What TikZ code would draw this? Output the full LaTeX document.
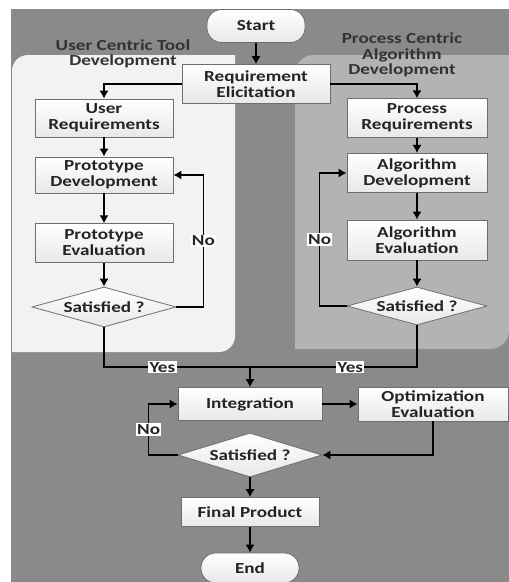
\documentclass[tikz,border=0pt]{standalone}
\usepackage{fontspec}
\setmainfont{Carlito}[FakeStretch=1.25]
\usetikzlibrary{shapes.geometric,arrows.meta}

\definecolor{outergray}{HTML}{8A8A8A}
\definecolor{userpanel}{HTML}{F2F2F2}
\definecolor{procpanel}{HTML}{B3B3B3}
\definecolor{boxline}{HTML}{6E6E6E}
\definecolor{inkgray}{HTML}{242424}

\tikzset{
  block/.style={draw=boxline, line width=0.6pt, rectangle, top color=white, bottom color=gray!18,
    text=inkgray, font=\fontsize{11.5}{12}\selectfont\bfseries, align=center, inner sep=2pt},
  terminal/.style={block, rounded corners=11pt},
  decision/.style={block, diamond, aspect=3.6, inner sep=1pt},
  flow/.style={line width=1.2pt, -{Latex[length=6pt,width=7pt]}},
  link/.style={line width=1.2pt},
  answer/.style={fill=white, inner sep=1pt, text=inkgray, font=\fontsize{11.5}{12}\selectfont\bfseries},
  paneltitle/.style={text=black!80, font=\fontsize{11.5}{11.5}\selectfont\bfseries, align=center}
}

\begin{document}
\begin{tikzpicture}[x=0.75pt, y=-0.75pt]
    \useasboundingbox (0,0) rectangle (509,582);
    % background and the two swim lanes
    \fill[outergray] (11,9) rectangle (509,582);
    \fill[userpanel] (12,352) [rounded corners=12pt] -- (12,55) [sharp corners] -- (235,55) [rounded corners=12pt] -- (235,352) [sharp corners] -- cycle;
    \fill[procpanel] (295,349) [rounded corners=14pt] -- (295,55) [sharp corners] -- (509,55) [rounded corners=14pt] -- (509,349) [sharp corners] -- cycle;
    \node[paneltitle] (usertitle) at (123,54) {User Centric Tool\\Development};
    \node[paneltitle] (proctitle) at (402,55) {Process Centric\\Algorithm\\Development};

    \node[terminal, minimum width=73.5pt, minimum height=24.75pt] (start) at (256,26) {Start};
    \node[block, minimum width=111pt, minimum height=29.25pt, below of=start, node distance=43.5pt] (reqelic) {Requirement\\Elicitation};

    % user centric side
    \node[block, minimum width=103.5pt, minimum height=28.5pt, below of=reqelic, node distance=25.5pt, xshift=-114pt] (userreq) {User\\Requirements};
    \node[block, minimum width=103.5pt, minimum height=27pt, below of=userreq, node distance=42.75pt] (protodev) {Prototype\\Development};
    \node[block, minimum width=103.5pt, minimum height=29pt, below of=protodev, node distance=51pt] (protoeval) {Prototype\\Evaluation};
    \node[decision, minimum width=108pt, minimum height=30pt, below of=protoeval, node distance=48pt] (satl) {Satisfied ?};

    % process centric side
    \node[block, minimum width=105pt, minimum height=29pt, below of=reqelic, node distance=25.5pt, xshift=120.75pt] (procreq) {Process\\Requirements};
    \node[block, minimum width=105pt, minimum height=29.5pt, below of=procreq, node distance=41.25pt] (algdev) {Algorithm\\Development};
    \node[block, minimum width=105pt, minimum height=30pt, below of=algdev, node distance=50.25pt] (algeval) {Algorithm\\Evaluation};
    \node[decision, minimum width=105pt, minimum height=28.5pt, below of=algeval, node distance=49.5pt] (satr) {Satisfied ?};

    % merged part
    \node[block, minimum width=108pt, minimum height=24.75pt, below of=reqelic, node distance=240pt, xshift=-4.5pt] (integ) {Integration};
    \node[block, minimum width=112.5pt, minimum height=25.5pt, right of=integ, node distance=137.25pt] (opteval) {Optimization\\Evaluation};
    \node[decision, minimum width=108pt, minimum height=33pt, below of=integ, node distance=38.25pt] (satb) {Satisfied ?};
    \node[block, minimum width=103.5pt, minimum height=21.75pt, below of=satb, node distance=42.75pt] (final) {Final Product};
    \node[terminal, minimum width=73.5pt, minimum height=22.5pt, below of=final, node distance=42pt] (end) {End};
    \path (integ.north) ++(0,-20) coordinate (merge);

    \draw[flow] (start) -- (reqelic);
    \draw[flow] (reqelic.west) -| (userreq.north);
    \draw[flow] (reqelic.east) -| (procreq.north);

    \draw[flow] (userreq) -- (protodev);
    \draw[flow] (protodev) -- (protoeval);
    \draw[flow] (protoeval) -- (satl);
    \draw[flow] (satl.east) -- ++(27,0) |- (protodev.east) node[pos=0.25, answer] {No};

    \draw[flow] (procreq) -- (algdev);
    \draw[flow] (algdev) -- (algeval);
    \draw[flow] (algeval) -- (satr);
    \draw[flow] (satr.west) -- ++(-27,0) |- (algdev.west) node[pos=0.25, answer] {No};

    \draw[link] (satl.south) |- (merge) node[pos=0.7, answer] {Yes};
    \draw[link] (satr.south) |- (merge) node[pos=0.7, answer] {Yes};
    \draw[flow] (merge) -- (integ);

    \draw[flow] (integ) -- (opteval);
    \draw[flow] (opteval.south) |- (satb.east);
    \draw[flow] (satb.west) -- ++(-29,0) |- (integ.west) node[pos=0.25, answer] {No};
    \draw[flow] (satb) -- (final);
    \draw[flow] (final) -- (end);
\end{tikzpicture}
\end{document}
